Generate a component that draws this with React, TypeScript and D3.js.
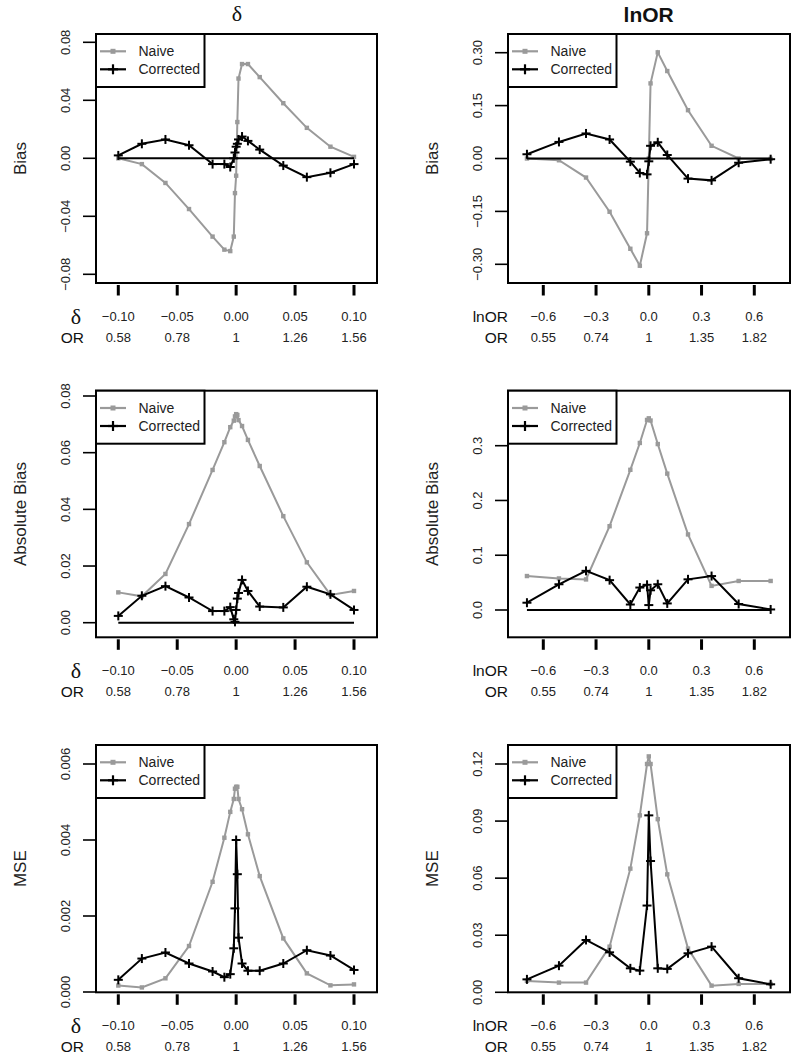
import React from "react";
import * as d3 from "d3";

// ---------- data ----------
const deltaX = [-0.10, -0.08, -0.06, -0.04, -0.02, -0.01, -0.005, -0.002, -0.001, 0, 0.001, 0.002, 0.005, 0.01, 0.02, 0.04, 0.06, 0.08, 0.10];
const lnOrX = [-0.693, -0.511, -0.357, -0.223, -0.105, -0.051, -0.010, 0, 0.010, 0.051, 0.105, 0.223, 0.357, 0.511, 0.693];

const biasDeltaNaive = [0.000, -0.004, -0.017, -0.035, -0.054, -0.063, -0.064, -0.054, -0.024, -0.012, 0.025, 0.055, 0.065, 0.065, 0.056, 0.038, 0.021, 0.008, 0.001];
const biasDeltaCorrected = [0.002, 0.010, 0.013, 0.009, -0.004, -0.004, -0.006, 0.000, 0.004, 0.008, 0.010, 0.013, 0.015, 0.012, 0.006, -0.005, -0.013, -0.010, -0.004];
const absDeltaNaive = [0.0107, 0.0093, 0.0172, 0.0348, 0.0539, 0.0637, 0.069, 0.0713, 0.0728, 0.0736, 0.0733, 0.0715, 0.0694, 0.0645, 0.0553, 0.0376, 0.0213, 0.0098, 0.0112];
const absDeltaCorrected = [0.0024, 0.0095, 0.0129, 0.0089, 0.0041, 0.0041, 0.0055, 0.0012, 0.0003, 0.0045, 0.0085, 0.0105, 0.0151, 0.0112, 0.0057, 0.0054, 0.0127, 0.0100, 0.0045];
const mseDeltaNaive = [0.00017, 0.00012, 0.00036, 0.00121, 0.0029, 0.00406, 0.00474, 0.00508, 0.00535, 0.0054, 0.0054, 0.00508, 0.00481, 0.00415, 0.00305, 0.00141, 0.00049, 0.000175, 0.0002];
const mseDeltaCorrected = [0.00032, 0.00088, 0.00104, 0.00075, 0.00054, 0.00039, 0.00047, 0.00115, 0.0022, 0.0040, 0.0031, 0.00143, 0.00075, 0.00056, 0.00056, 0.00075, 0.0011, 0.00096, 0.00058];

const biasLnNaive = [0.000, -0.005, -0.054, -0.151, -0.256, -0.304, -0.212, 0.000, 0.213, 0.301, 0.248, 0.137, 0.036, 0.000, -0.001];
const biasLnCorrected = [0.012, 0.047, 0.071, 0.054, -0.009, -0.041, -0.045, -0.008, 0.036, 0.046, 0.010, -0.057, -0.062, -0.012, -0.002];
const absLnNaive = [0.062, 0.0576, 0.0558, 0.153, 0.256, 0.305, 0.347, 0.350, 0.346, 0.303, 0.249, 0.138, 0.044, 0.053, 0.053];
const absLnCorrected = [0.0133, 0.047, 0.0715, 0.0545, 0.010, 0.041, 0.046, 0.009, 0.036, 0.047, 0.012, 0.056, 0.062, 0.011, 0.001];
const mseLnNaive = [0.006, 0.0051, 0.0051, 0.024, 0.065, 0.093, 0.120, 0.124, 0.120, 0.091, 0.062, 0.023, 0.0035, 0.0044, 0.0044];
const mseLnCorrected = [0.0068, 0.014, 0.0275, 0.021, 0.0126, 0.0114, 0.0456, 0.093, 0.069, 0.0126, 0.0123, 0.0205, 0.024, 0.0074, 0.0042];

const deltaTicks = [-0.10, -0.05, 0, 0.05, 0.10];
const deltaTickLabels = ["\u22120.10", "\u22120.05", "0.00", "0.05", "0.10"];
const deltaOrLabels = ["0.58", "0.78", "1", "1.26", "1.56"];
const lnOrTicks = [-0.6, -0.3, 0, 0.3, 0.6];
const lnOrTickLabels = ["\u22120.6", "\u22120.3", "0.0", "0.3", "0.6"];
const lnOrOrLabels = ["0.55", "0.74", "1", "1.35", "1.82"];

const biasDeltaYTicks = [-0.08, -0.04, 0, 0.04, 0.08];
const biasLnYTicks = [-0.30, -0.15, 0, 0.15, 0.30];
const absDeltaYTicks = [0, 0.02, 0.04, 0.06, 0.08];
const absLnYTicks = [0, 0.1, 0.2, 0.3];
const mseDeltaYTicks = [0, 0.002, 0.004, 0.006];
const mseLnYTicks = [0, 0.03, 0.06, 0.09, 0.12];

const seriesNames = ["Naive", "Corrected"];
const columnTitles = ["\u03b4", "lnOR"];

// ---------- layout ----------
const GREY = "#9a9a9a";
const SANS = "'Liberation Sans', Arial, Helvetica, sans-serif";
const SERIF = "'Liberation Serif', 'DejaVu Serif', serif";

const cols = [
  { boxL: 96, boxR: 377, dom: [-0.10, 0.10], rng: [118.3, 354], xTicks: deltaTicks, xLabels: deltaTickLabels, orLabels: deltaOrLabels, xData: deltaX, rowLabel: "\u03b4", serifLabel: true },
  { boxL: 508, boxR: 790, dom: [-0.6, 0.6], rng: [543.3, 754.3], xTicks: lnOrTicks, xLabels: lnOrTickLabels, orLabels: lnOrOrLabels, xData: lnOrX, rowLabel: "lnOR", serifLabel: false },
];
const rows = [
  { boxT: 34, boxB: 283, title: "Bias", zero: true },
  { boxT: 390.7, boxB: 637.3, title: "Absolute Bias", zero: true },
  { boxT: 745, boxB: 992.3, title: "MSE", zero: false },
];

const panels = [
  { c: 0, r: 0, naive: biasDeltaNaive, corr: biasDeltaCorrected, yDom: [-0.08, 0.08], yRng: [274.3, 42.3], yTicks: biasDeltaYTicks, dec: 2 },
  { c: 1, r: 0, naive: biasLnNaive, corr: biasLnCorrected, yDom: [-0.30, 0.30], yRng: [264.3, 52.7], yTicks: biasLnYTicks, dec: 2 },
  { c: 0, r: 1, naive: absDeltaNaive, corr: absDeltaCorrected, yDom: [0, 0.08], yRng: [622.7, 396], yTicks: absDeltaYTicks, dec: 2 },
  { c: 1, r: 1, naive: absLnNaive, corr: absLnCorrected, yDom: [0, 0.3], yRng: [610, 445.7], yTicks: absLnYTicks, dec: 1 },
  { c: 0, r: 2, naive: mseDeltaNaive, corr: mseDeltaCorrected, yDom: [0, 0.006], yRng: [992, 764], yTicks: mseDeltaYTicks, dec: 3 },
  { c: 1, r: 2, naive: mseLnNaive, corr: mseLnCorrected, yDom: [0, 0.12], yRng: [992.3, 764], yTicks: mseLnYTicks, dec: 2 },
];

const fmt = (v: number, d: number) => (v < 0 ? "\u2212" : "") + Math.abs(v).toFixed(d);

function Plus({ x, y, s = 4.5, w = 2 }: { x: number; y: number; s?: number; w?: number }) {
  return (
    <g stroke="#000" strokeWidth={w}>
      <line x1={x - s} x2={x + s} y1={y} y2={y} />
      <line x1={x} x2={x} y1={y - s} y2={y + s} />
    </g>
  );
}

function Panel({ p }: { p: any }) {
  const col = cols[p.c];
  const row = rows[p.r];
  const x = d3.scaleLinear().domain(col.dom).range(col.rng);
  const y = d3.scaleLinear().domain(p.yDom).range(p.yRng);
  const line = d3.line<[number, number]>().x((d) => x(d[0])).y((d) => y(d[1]));
  const naivePts: [number, number][] = col.xData.map((v: number, i: number) => [v, p.naive[i]]);
  const corrPts: [number, number][] = col.xData.map((v: number, i: number) => [v, p.corr[i]]);
  const L = col.boxL, R = col.boxR, T = row.boxT, B = row.boxB;
  const midY = (T + B) / 2;
  const xmin = col.xData[0], xmax = col.xData[col.xData.length - 1];
  const legW = 108.5, legH = 53;
  return (
    <g>
      {/* data */}
      <path d={line(naivePts) || ""} fill="none" stroke={GREY} strokeWidth={2} />
      {naivePts.map((d, i) => (
        <rect key={"n" + i} x={x(d[0]) - 2.2} y={y(d[1]) - 2.2} width={4.4} height={4.4} fill={GREY} />
      ))}
      <path d={line(corrPts) || ""} fill="none" stroke="#000" strokeWidth={2} />
      {corrPts.map((d, i) => (
        <Plus key={"c" + i} x={x(d[0])} y={y(d[1])} />
      ))}
      {row.zero && <line x1={x(xmin)} x2={x(xmax)} y1={y(0)} y2={y(0)} stroke="#000" strokeWidth={2} />}
      {/* box */}
      <rect x={L} y={T} width={R - L} height={B - T} fill="none" stroke="#000" strokeWidth={2} />
      {/* y axis */}
      {p.yTicks.map((t: number, i: number) => (
        <g key={"yt" + i}>
          <line x1={L - 13} x2={L} y1={y(t)} y2={y(t)} stroke="#000" strokeWidth={1.6} />
          <text
            transform={`translate(${L - 31},${y(t)}) rotate(-90)`}
            textAnchor="middle"
            dy="0.36em"
            fontFamily={SANS}
            fontSize={13}
            fill="#222"
          >
            {fmt(t, p.dec)}
          </text>
        </g>
      ))}
      <text transform={`translate(${L - 76},${midY}) rotate(-90)`} textAnchor="middle" dy="0.36em" fontFamily={SANS} fontSize={17} fill="#222">
        {row.title}
      </text>
      {/* x axis */}
      {col.xTicks.map((t: number, i: number) => (
        <g key={"xt" + i}>
          <line x1={x(t)} x2={x(t)} y1={B + 2} y2={B + 12.5} stroke="#000" strokeWidth={3} />
          <text x={x(t)} y={B + 37.5} textAnchor="middle" fontFamily={SANS} fontSize={13} fill="#222">
            {col.xLabels[i]}
          </text>
          <text x={x(t)} y={B + 59} textAnchor="middle" fontFamily={SANS} fontSize={13} fill="#222">
            {col.orLabels[i]}
          </text>
        </g>
      ))}
      {col.serifLabel ? (
        <text x={76} y={B + 40.5} textAnchor="middle" fontFamily={SERIF} fontSize={22} fill="#111">
          {col.rowLabel}
        </text>
      ) : (
        <text x={L} y={B + 38.5} textAnchor="end" fontFamily={SANS} fontSize={15.5} fill="#111">
          {col.rowLabel}
        </text>
      )}
      <text x={col.serifLabel ? 84 : L} y={B + 60} textAnchor="end" fontFamily={SANS} fontSize={15.5} fill="#111">
        OR
      </text>
      {/* legend */}
      <rect x={L} y={T} width={legW} height={legH} fill="#fff" stroke="#000" strokeWidth={2} />
      <line x1={L + 4} x2={L + 30} y1={T + 17.3} y2={T + 17.3} stroke={GREY} strokeWidth={2.2} />
      <rect x={L + 17 - 2.5} y={T + 17.3 - 2.5} width={5} height={5} fill={GREY} />
      <text x={L + 42.5} y={T + 17.3} dy="0.36em" fontFamily={SANS} fontSize={14} fill="#222">
        {seriesNames[0]}
      </text>
      <line x1={L + 4} x2={L + 30} y1={T + 35.3} y2={T + 35.3} stroke="#000" strokeWidth={2.2} />
      <Plus x={L + 17} y={T + 35.3} s={5} w={2.2} />
      <text x={L + 42.5} y={T + 35.3} dy="0.36em" fontFamily={SANS} fontSize={14} fill="#222">
        {seriesNames[1]}
      </text>
    </g>
  );
}

export default function App() {
  return (
    <svg width={800} height={1061} style={{ position: "absolute", left: 0, top: 0, background: "#fff" }}>
      <rect x={0} y={0} width={800} height={1061} fill="#fff" />
      <text x={237} y={21} textAnchor="middle" fontFamily={SERIF} fontSize={22} fill="#111">
        {columnTitles[0]}
      </text>
      <text x={648.7} y={22} textAnchor="middle" fontFamily={SANS} fontWeight="bold" fontSize={21} fill="#111">
        {columnTitles[1]}
      </text>
      {panels.map((p, i) => (
        <Panel key={i} p={p} />
      ))}
    </svg>
  );
}
